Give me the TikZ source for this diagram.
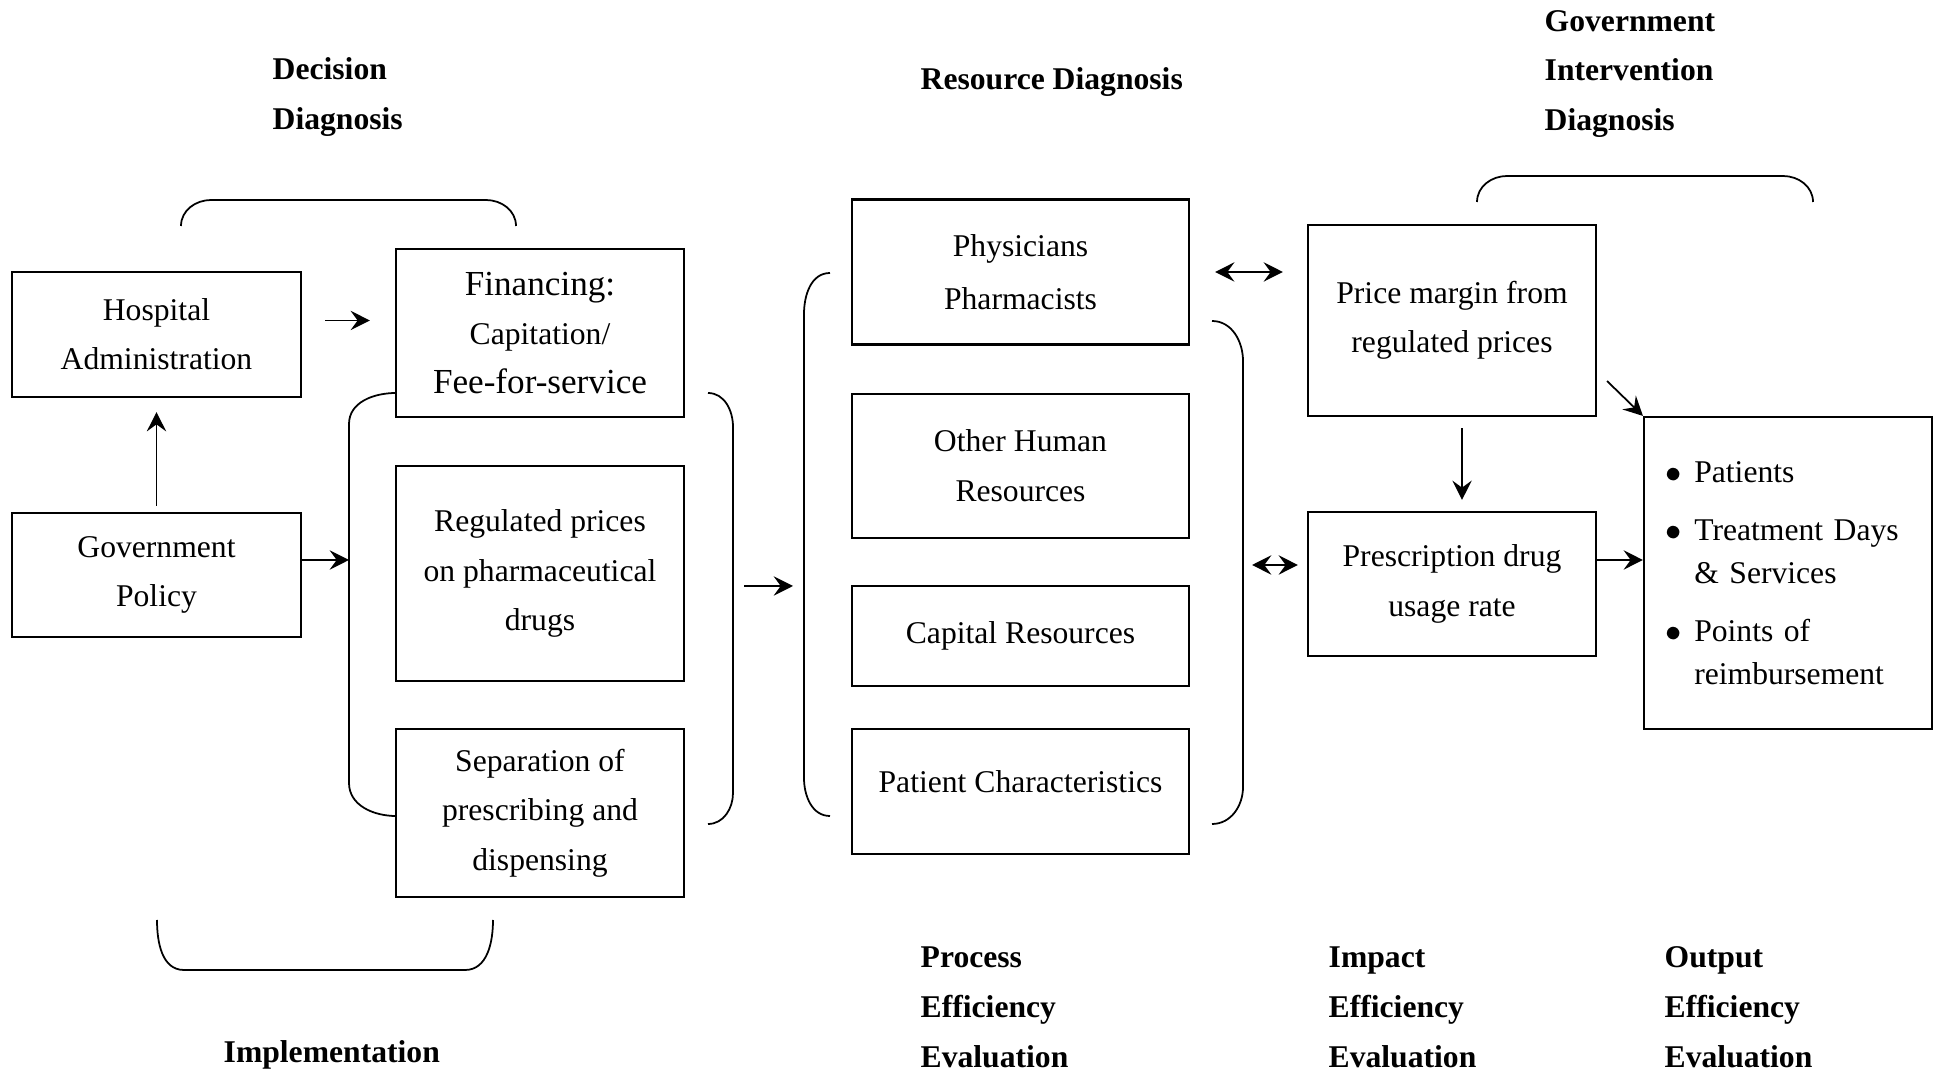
\documentclass[tikz,border=0pt]{standalone}
\usepackage{fontspec}
\setmainfont{Liberation Serif}
\usepackage{tikz}
\usetikzlibrary{arrows.meta, positioning, calc}

\begin{document}
\begin{tikzpicture}[
    font=\fontsize{9}{14}\selectfont,
    box/.style={
        rectangle,
        draw=black,
        line width=0.6pt,
        minimum width=2.88cm,
        align=center,
        inner sep=2pt
    },
    heading/.style={
        anchor=west,
        align=left,
        inner sep=0pt,
        font=\fontsize{9}{14.2}\selectfont\bfseries
    },
    brace/.style={line width=0.5pt},
    arrow/.style={-{Stealth[length=5.5pt, width=5.5pt, inset=2pt]}, line width=0.5pt},
    dblarrow/.style={{Stealth[length=5.5pt, width=5.5pt, inset=2pt]}-{Stealth[length=5.5pt, width=5.5pt, inset=2pt]}, line width=0.5pt}
]
    \useasboundingbox (0,0) rectangle (19.40,10.71);

    % Left column: administration and policy
    \node[box, minimum width=2.89cm, minimum height=1.25cm] (hosp) at (1.565,7.365) {Hospital\\Administration};
    \node[box, minimum width=2.89cm, minimum height=1.24cm] (gov) at (1.565,4.96) {Government\\Policy};

    % Implementation column
    \node[box, minimum height=1.68cm] (fin) at (5.40,7.38) {{\fontsize{10}{14}\selectfont Financing:}\\Capitation/\\{\fontsize{10}{14}\selectfont Fee-for-service}};
    \node[box, minimum height=2.15cm, below=0.47cm of fin] (reg) {Regulated prices\\on pharmaceutical\\drugs};
    \node[box, minimum height=1.68cm, below=0.46cm of reg] (sep) {Separation of\\prescribing and\\dispensing};

    % Resource column
    \node[box, minimum width=3.37cm, minimum height=1.45cm] (phys) at (10.205,7.99) {Physicians\\[1pt]Pharmacists};
    \node[box, minimum width=3.37cm, minimum height=1.44cm, below=0.47cm of phys] (other) {Other Human\\Resources};
    \node[box, minimum width=3.37cm, minimum height=1.00cm, below=0.46cm of other] (capital) {Capital Resources};
    \node[box, minimum width=3.37cm, minimum height=1.25cm, text depth=5.7pt, below=0.41cm of capital] (patient) {Patient Characteristics};

    % Impact and output
    \node[box, minimum height=1.91cm] (price) at (14.52,7.505) {Price margin from\\regulated prices};
    \node[box, minimum height=1.44cm] (presc) at (14.52,4.87) {Prescription drug\\usage rate};
    \node[box, minimum height=3.12cm, text width=2.46cm, align=left, inner xsep=0.21cm,
          font=\fontsize{9}{12.2}\selectfont] (out) at (17.88,4.98) {%
        $\bullet$\hspace{3.7pt}Patients\\[4.3pt]
        $\bullet$\hspace{3.7pt}Treatment Days\\
        \phantom{$\bullet$}\hspace{3.7pt}\& Services\\[4.3pt]
        $\bullet$\hspace{3.7pt}Points of\\
        \phantom{$\bullet$}\hspace{3.7pt}reimbursement};

    % Brackets
    \draw[brace] (1.81,8.45) to[out=90,in=180] (2.11,8.71) -- (4.86,8.71) to[out=0,in=90] (5.16,8.45);
    \draw[brace] (14.77,8.69) to[out=90,in=180] (15.07,8.95) -- (17.83,8.95) to[out=0,in=90] (18.13,8.69);
    \draw[brace] (1.57,1.51) to[out=-90,in=180] (1.84,1.01) -- (4.65,1.01) to[out=0,in=-90] (4.93,1.51);
    \draw[brace] (3.96,6.78) to[out=180,in=90] (3.49,6.47) -- (3.49,2.88) to[out=-90,in=180] (3.96,2.55);
    \draw[brace] (7.08,6.78) to[out=0,in=90] (7.33,6.44) -- (7.33,2.78) to[out=-90,in=0] (7.08,2.47);
    \draw[brace] (8.30,7.98) to[out=180,in=90] (8.04,7.57) -- (8.04,2.93) to[out=-90,in=180] (8.30,2.55);
    \draw[brace] (12.12,7.50) to[out=0,in=90] (12.43,7.10) -- (12.43,2.84) to[out=-90,in=0] (12.12,2.47);

    % Points on the brackets
    \coordinate (finL) at (3.49,5.11);
    \coordinate (finR) at (7.33,4.85);
    \coordinate (resL) at (8.04,4.85);
    \coordinate (resR) at (12.43,5.06);

    % Arrows
    \draw[arrow] ($(hosp.east)+(0.23,0.14)$) -- ($(hosp.east -| fin.west)+(-0.25,0.14)$);
    \draw[arrow] ([yshift=0.06cm]gov.north) -- ([yshift=-0.14cm]hosp.south);
    \draw[arrow] (gov.east |- finL) -- (finL);
    \draw[arrow, shorten <=0.11cm, shorten >=0.11cm] (finR) -- (resL);
    \draw[dblarrow, shorten <=0.25cm, shorten >=0.24cm] (phys.east) -- (phys.east -| price.west);
    \draw[dblarrow, shorten <=0.09cm, shorten >=0.09cm] (resR) -- (resR -| presc.west);
    \draw[arrow] ([xshift=0.1cm, yshift=-0.11cm]price.south) -- ([xshift=0.1cm, yshift=0.11cm]presc.north);
    \draw[arrow] ($(price.south east)+(0.10,0.36)$) -- (out.north west);
    \draw[arrow] ($(presc.east)+(0,0.24)$) -- ($(presc.east -| out.west)+(0,0.24)$);

    % Headings
    \node[heading] (decision) at (2.72,9.74) {Decision\\Diagnosis};
    \node[heading] (resource) at (9.20,9.89) {Resource Diagnosis};
    \node[heading] (intervention) at (15.44,9.97) {Government\\Intervention\\Diagnosis};
    \node[heading] (implementation) at (2.23,0.16) {Implementation};
    \node[heading] (process) at (9.20,0.64) {Process\\Efficiency\\Evaluation};
    \node[heading] (impact) at (13.28,0.64) {Impact\\Efficiency\\Evaluation};
    \node[heading] (output) at (16.64,0.64) {Output\\Efficiency\\Evaluation};

\end{tikzpicture}
\end{document}
